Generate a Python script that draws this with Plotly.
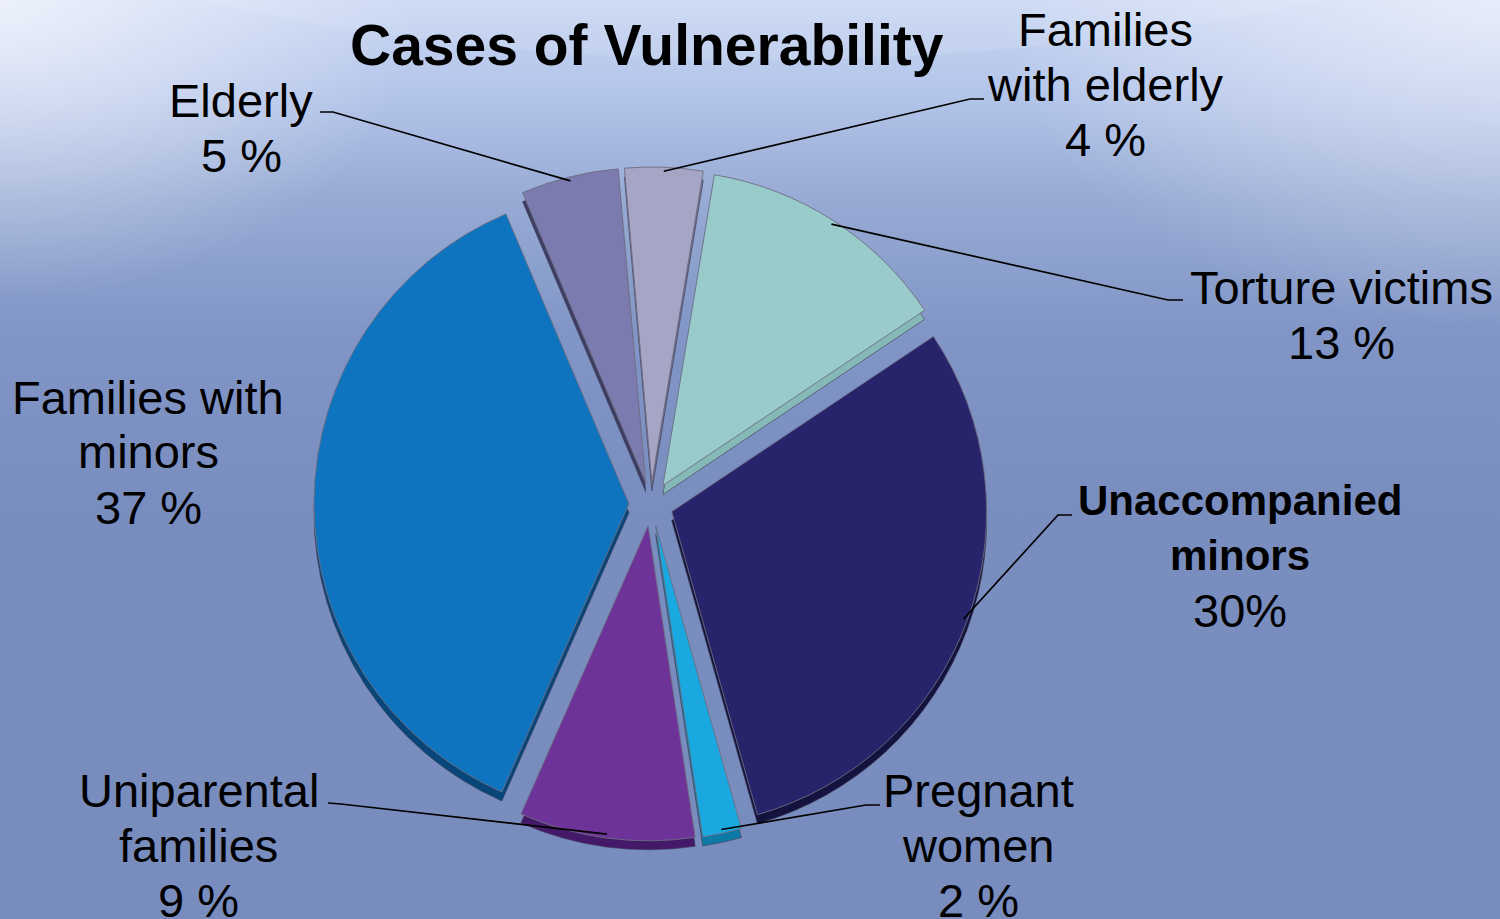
import math
import base64
import plotly.graph_objects as go

# ---------------- data ----------------
categories = ["Families with elderly", "Torture victims", "Unaccompanied minors",
              "Pregnant women", "Uniparental families", "Families with minors", "Elderly"]
values = [4, 13, 30, 2, 9, 37, 5]
label_lines = [["Families", "with elderly"], ["Torture victims"], ["Unaccompanied", "minors"],
               ["Pregnant", "women"], ["Uniparental", "families"], ["Families with", "minors"], ["Elderly"]]
pct_suffix = [" %", " %", "%", " %", " %", " %", " %"]
title_text = "Cases of Vulnerability"

# ---------------- style ----------------
W, H = 1500, 919
colors = ["#A7A5C6", "#9ACBCB", "#27246B", "#19A9E0", "#6E3399", "#0F74BF", "#7C7BB0"]
side_colors = ["#6E6C8C", "#86B8B8", "#14123F", "#0E7AA6", "#45196A", "#08467A", "#3E3D63"]
bold_name = [False, False, True, False, False, False, False]
PULL = 0.07
ROT = -5
CX, CY, HALF = 651, 504, 337          # pie box centre / half-size (pixels)
DEPTH = 9                              # 3D side thickness (pixels)
FS = 47
LINE_GAP = 55
# label layout: centre x, first-line mid y (pixels)
label_pos = [(1105, 29), (1341, 287), (1240, 500), (979, 790), (199, 790), (148, 397), (241, 100)]
# leader line: text-side start, elbow (pixels); None = no leader
leader_pts = [((984, 99), (970, 99)), ((1183, 300), (1168, 300)), ((1072, 515), (1058, 515)),
              ((880, 805), (866, 805)), ((328, 803), (341, 804)), None, ((320, 112), (333, 112))]


def px(x):
    return x / W


def py(y):
    return 1 - y / H


dom_x = [px(CX - HALF), px(CX + HALF)]
dom_y = [py(CY + HALF), py(CY - HALF)]
dom_y_side = [py(CY + HALF + DEPTH), py(CY - HALF + DEPTH)]

fig = go.Figure()
# 3D side (shadow copy)
fig.add_trace(go.Pie(
    labels=categories, values=values, sort=False, direction="clockwise", rotation=ROT,
    pull=[PULL] * len(values), marker=dict(colors=side_colors, line=dict(color="rgba(60,60,80,0.6)", width=1)),
    textinfo="none", hoverinfo="skip", showlegend=False,
    domain=dict(x=dom_x, y=dom_y_side)))
# top faces
fig.add_trace(go.Pie(
    labels=categories, values=values, sort=False, direction="clockwise", rotation=ROT,
    pull=[PULL] * len(values), marker=dict(colors=colors, line=dict(color="rgba(110,110,130,0.9)", width=1)),
    textinfo="none", hoverinfo="label+percent", showlegend=False,
    domain=dict(x=dom_x, y=dom_y)))

# ---------------- geometry of slices (as plotly computes it) ----------------
r = (2 * HALF) / (2 + 2 * PULL)
total = sum(values)
annotations = []
shapes = []
ang = ROT
for i, v in enumerate(values):
    span = 360 * v / total
    mid = math.radians(ang + span / 2)
    ang += span
    ax = CX + r * (1 + PULL) * math.sin(mid) - 4 * math.sin(mid)
    ay = CY - r * (1 + PULL) * math.cos(mid) + 4 * math.cos(mid)
    lx, ly = label_pos[i]
    lines = label_lines[i] + [f"{v}{pct_suffix[i]}"]
    for k, t in enumerate(lines):
        is_name = k < len(lines) - 1
        b = bold_name[i] and is_name
        annotations.append(dict(
            x=px(lx), y=py(ly + k * LINE_GAP), xref="paper", yref="paper",
            text=f"<b>{t}</b>" if b else t, showarrow=False,
            xanchor="center", yanchor="middle",
            font=dict(family="Liberation Sans, Arial, sans-serif", size=42 if b else FS, color="#000000")))
    if leader_pts[i] is not None:
        (sx, sy), (ex, ey) = leader_pts[i]
        path = f"M {px(sx)},{py(sy)} L {px(ex)},{py(ey)} L {px(ax)},{py(ay)}"
        shapes.append(dict(type="path", path=path, xref="paper", yref="paper",
                           line=dict(color="#000000", width=1.7), layer="above"))

annotations.append(dict(
    x=px(647), y=py(45), xref="paper", yref="paper", text=f"<b>{title_text}</b>",
    showarrow=False, xanchor="center", yanchor="middle",
    font=dict(family="Liberation Sans, Arial, sans-serif", size=57, color="#000000")))

# ---------------- background gradient ----------------
svg = f'''<svg xmlns="http://www.w3.org/2000/svg" width="{W}" height="{H}" viewBox="0 0 {W} {H}" preserveAspectRatio="none">
<defs>
<linearGradient id="g" x1="0" y1="0" x2="0" y2="1">
<stop offset="0" stop-color="#C9D7F3"/>
<stop offset="0.1" stop-color="#B4C5EA"/>
<stop offset="0.22" stop-color="#97AAD4"/>
<stop offset="0.36" stop-color="#8196C6"/>
<stop offset="0.55" stop-color="#798DBF"/>
<stop offset="1" stop-color="#788CBE"/>
</linearGradient>
<radialGradient id="tl" cx="0" cy="0" r="1" gradientUnits="objectBoundingBox">
<stop offset="0" stop-color="#FFFFFF" stop-opacity="0.65"/>
<stop offset="1" stop-color="#FFFFFF" stop-opacity="0"/>
</radialGradient>
<radialGradient id="tr" cx="1" cy="0" r="1" gradientUnits="objectBoundingBox">
<stop offset="0" stop-color="#FFFFFF" stop-opacity="0.55"/>
<stop offset="1" stop-color="#FFFFFF" stop-opacity="0"/>
</radialGradient>
</defs>
<rect width="{W}" height="{H}" fill="url(#g)"/>
<rect x="0" y="0" width="420" height="300" fill="url(#tl)"/>
<rect x="1000" y="0" width="500" height="330" fill="url(#tr)"/>
<ellipse cx="760" cy="-330" rx="1050" ry="390" fill="#FFFFFF" fill-opacity="0.10"/>
</svg>'''
bg_uri = "data:image/svg+xml;base64," + base64.b64encode(svg.encode()).decode()

fig.update_layout(
    width=W, height=H,
    margin=dict(l=0, r=0, t=0, b=0),
    paper_bgcolor="#798DBF", plot_bgcolor="#798DBF",
    annotations=annotations, shapes=shapes,
    images=[dict(source=bg_uri, xref="paper", yref="paper", x=0, y=1, sizex=1, sizey=1,
                 xanchor="left", yanchor="top", sizing="stretch", layer="below")],
    showlegend=False,
)
fig.write_html("out.html", config={"displayModeBar": False},
               post_script="document.body.style.margin='0';document.body.style.overflow='hidden';")
